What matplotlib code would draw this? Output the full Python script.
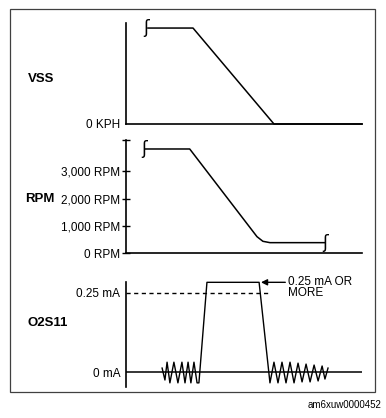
import numpy as np
import matplotlib
matplotlib.use("Agg")
import matplotlib.pyplot as plt
from matplotlib.patches import Rectangle
from matplotlib.transforms import blended_transform_factory

plt.rcParams['font.family'] = ['Liberation Sans', 'DejaVu Sans']

# time axis is arbitrary (0..10), shared by the three traces
# VSS trace
vss_t = [0.93, 2.84, 6.27, 10.0]
vss_kph = [95, 95, 0, 0]

# RPM trace
rpm_t = [0.8, 2.7, 5.55, 5.8, 6.1, 8.4]
rpm_val = [3820, 3820, 600, 430, 380, 380]
rpm_ticks = [0, 1000, 2000, 3000]
rpm_labels = ["0 RPM", "1,000 RPM", "2,000 RPM", "3,000 RPM"]

# O2S11 current trace (mA)
o2_t = [1.53, 1.65, 1.74, 1.86, 2.03, 2.20, 2.37, 2.50, 2.63, 2.75, 2.88, 3.01,
        3.09, 3.43, 5.64, 6.10, 6.27, 6.44, 6.61, 6.78, 6.95, 7.12, 7.29, 7.46,
        7.63, 7.80, 7.97, 8.14, 8.31, 8.43, 8.56]
o2_ma = [0.0125, -0.025, 0.031, -0.034, 0.031, -0.034, 0.031, -0.034, 0.031, -0.034, 0.031, -0.034,
         -0.034, 0.282, 0.282, -0.034, 0.031, -0.034, 0.031, -0.034, 0.031, -0.034, 0.028, -0.031,
         0.025, -0.031, 0.022, -0.028, 0.019, -0.022, 0.0125]
o2_thresh = 0.25
o2_ticks = [0, 0.25]
o2_labels = ["0 mA", "0.25 mA"]

W, H = 386, 418
fig = plt.figure(figsize=(W / 100, H / 100), dpi=100)

def px_axes(x0, y_top, x1, y_bot):
    return fig.add_axes([x0 / W, 1 - y_bot / H, (x1 - x0) / W, (y_bot - y_top) / H])

LW = 1.1
TXT = 8.5

# outer frame
fig.patches.append(Rectangle((10 / W, 1 - 392 / H), 365 / W, 383 / H, transform=fig.transFigure,
                             fill=False, lw=0.9, ec="0.25"))

def brk(ax, x, y):
    ax.text(x, y, "ʃ", ha="center", va="center", fontsize=12, family="DejaVu Sans",
            clip_on=False)

# ---- VSS
ax1 = px_axes(126, 23, 362, 124)
ax1.plot(vss_t, vss_kph, color="k", lw=LW, clip_on=False)
ax1.set_xlim(0, 10)
ax1.set_ylim(0, 100)
ax1.set_yticks([0])
ax1.set_yticklabels(["0 KPH"], fontsize=TXT)
ax1.set_xticks([])
ax1.tick_params(axis="y", length=0, pad=4)
brk(ax1, vss_t[0] - 0.08, vss_kph[0])
fig.text(28 / W, 1 - 79 / H, "VSS", fontsize=9.5, fontweight="bold", va="center")

# ---- RPM
ax2 = px_axes(126, 140, 362, 253)
ax2.plot(rpm_t, rpm_val, color="k", lw=LW, clip_on=False)
ax2.set_xlim(0, 10)
ax2.set_ylim(0, 4150)
ax2.set_yticks(rpm_ticks + [4150])
ax2.set_yticklabels(rpm_labels + [""], fontsize=TXT)
ax2.set_xticks([])
ax2.tick_params(axis="y", direction="inout", length=6, width=1.0, pad=1)
brk(ax2, rpm_t[0] - 0.05, rpm_val[0])
brk(ax2, rpm_t[-1] + 0.05, rpm_val[-1])
tr2 = blended_transform_factory(fig.transFigure, ax2.transData)
ax2.text(25 / W, 2000, "RPM", transform=tr2, fontsize=9.5, fontweight="bold", va="center")

# ---- O2S11
ax3 = px_axes(126, 282, 362, 387)
ax3.axhline(0, color="k", lw=LW)
ax3.plot(o2_t, o2_ma, color="k", lw=1.0, clip_on=False)
ax3.plot([0, 6.1], [o2_thresh, o2_thresh], color="k", lw=1.0, linestyle=(0, (3, 2.5)))
ax3.set_xlim(0, 10)
ax3.set_ylim(-0.047, 0.283)
ax3.set_yticks(o2_ticks)
ax3.set_yticklabels(o2_labels, fontsize=TXT)
ax3.set_xticks([])
ax3.tick_params(axis="y", length=0, pad=4)
ax3.spines["bottom"].set_visible(False)
ax3.annotate("", xy=(5.72, 0.282), xytext=(6.75, 0.282),
             arrowprops=dict(arrowstyle="-|>", color="k", lw=1.0, mutation_scale=9,
                             shrinkA=0, shrinkB=0), annotation_clip=False)
ax3.text(6.88, 0.282, "0.25 mA OR", fontsize=TXT, va="center", ha="left", clip_on=False)
ax3.text(6.88, 0.249, "MORE", fontsize=TXT, va="center", ha="left", clip_on=False)
fig.text(27 / W, 1 - 323 / H, "O2S11", fontsize=9.5, fontweight="bold", va="center")

for ax in (ax1, ax2, ax3):
    ax.spines["top"].set_visible(False)
    ax.spines["right"].set_visible(False)
    ax.spines["left"].set_linewidth(1.2)
    ax.spines["bottom"].set_linewidth(1.2)
    ax.patch.set_alpha(0)

fig.text(382 / W, 1 - 405 / H, "am6xuw0000452", fontsize=7, ha="right", va="center")

fig.savefig("out.png", dpi=100)
